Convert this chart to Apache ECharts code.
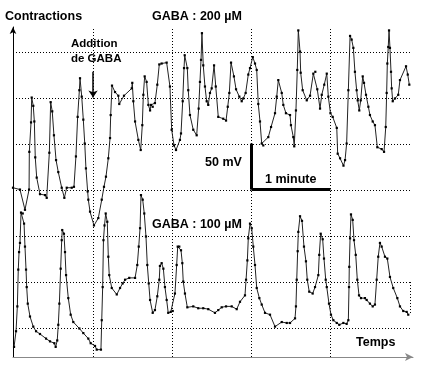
<!DOCTYPE html>
<html>
<head>
<meta charset="utf-8">
<script src="https://cdn.jsdelivr.net/npm/echarts@6/dist/echarts.min.js"></script>
<style>html,body{margin:0;padding:0;background:#fff}#c{width:427px;height:367px}</style>
</head>
<body>
<div id="c"></div>
<script>
// Time (s) and membrane signal (mV, arbitrary baseline)
const upperT = [0,5.3,9.1,12.2,12.4,13.7,14.2,15.4,16.2,16.9,18.0,20.5,24.3,25.6,27.6,28.6,29.8,31.1,32.7,34.4,37.0,39.0,40.8,44.6,46.3,47.8,49.1,50.4,50.9,52.2,53.4,54.5,55.4,56.7,57.2,58.5,61.5,64.8,67.4,69.1,70.6,72.4,73.7,74.2,75.2,77.5,80.0,80.7,84.3,90.2,90.6,91.4,92.7,95.2,97.0,98.2,99.0,100.0,101.5,102.8,104.1,104.8,106.1,107.8,109.6,111.1,112.9,116.7,119.2,120.5,122.3,123.8,126.8,127.6,128.9,129.9,130.4,132.4,133.1,134.4,136.9,139.5,141.0,142.0,142.8,143.5,144.5,145.8,147.1,148.3,149.6,150.9,152.7,154.0,155.9,159.7,161.8,163.1,164.3,165.6,167.8,169.4,171.9,173.7,174.9,176.7,178.7,180.0,182.1,183.8,185.1,186.3,187.6,188.9,190.1,193.9,196.0,199.0,200.3,201.5,204.1,205.3,207.3,210.4,211.1,212.9,213.6,214.9,215.9,216.7,218.0,218.5,220.0,223.1,225.6,228.1,229.6,231.1,233.2,234.5,236.4,238.3,239.5,241.1,242.8,245.9,246.6,248.4,251.0,252.2,253.4,254.7,256.0,257.2,258.5,259.7,261.0,261.8,263.0,264.1,265.6,266.6,268.1,269.9,271.1,273.2,274.9,276.7,280.0,281.8,283.1,283.8,284.3,285.0,285.6,286.3,287.1,287.6,288.4,290.1,292.6,293.9,298.5,299.8,301.0];
const upperV = [184,182,160,182,223,255,282,273,256,217,195,177,176,173,222,277,267,241,214,201,184,173,184,184,185,218,261,290,303,283,258,232,205,180,171,158,143,151,171,185,196,216,238,263,295,288,284,275,284,292,298,278,256,236,225,252,285,305,299,274,268,274,272,276,296,318,319,320,294,247,230,225,236,243,278,314,328,314,290,263,247,241,270,299,323,352,317,294,278,274,287,292,317,294,261,259,257,272,287,320,305,291,283,278,281,287,307,314,326,319,312,275,256,232,230,239,250,265,283,301,287,274,265,263,252,239,229,268,312,355,332,309,290,279,284,308,310,291,270,285,296,308,283,265,261,249,221,216,208,214,232,290,349,345,336,310,290,279,268,279,305,298,285,272,263,256,252,228,226,223,250,287,319,337,355,336,310,292,278,281,285,301,316,307,296];
const lowerT = [0.8,2.3,3.3,4.0,4.6,5.3,6.1,7.4,8.4,9.1,9.9,10.4,11.2,12.9,15.4,17.5,20.5,25.1,28.1,31.4,32.4,33.6,34.4,35.2,36.2,37.0,37.4,38.7,39.5,40.3,42.0,43.8,45.8,50.4,53.4,57.2,59.0,62.3,63.6,66.8,67.4,68.1,68.7,69.5,70.4,71.6,72.4,73.1,75.0,78.8,81.3,83.3,85.1,88.3,92.7,94.4,95.5,96.5,97.2,98.5,99.7,101.0,102.0,103.1,104.1,106.1,107.8,109.6,111.1,111.6,112.9,114.2,115.4,116.7,117.9,119.8,121.3,123.0,124.3,125.1,126.3,127.6,128.6,129.3,130.6,132.4,136.9,140.7,144.5,148.3,153.4,155.9,158.5,161.8,166.1,169.9,172.4,176.2,177.0,178.0,178.7,180.0,181.3,182.5,183.8,185.1,187.1,188.9,191.4,195.2,199.0,204.1,207.9,210.4,214.2,214.9,215.5,216.2,216.7,218.0,219.5,221.0,222.5,223.5,225.0,227.6,229.4,231.9,232.6,233.7,235.2,236.2,237.5,238.3,240.0,241.5,243.3,245.9,247.8,250.9,253.4,254.7,255.2,255.4,256.0,256.7,258.0,259.0,260.3,261.5,262.8,264.3,267.3,268.6,271.1,273.2,274.9,276.2,277.4,278.7,280.0,282.5,284.3,286.3,288.8,291.9,293.9,296.4,299.0,300.2];
const lowerV = [11,28,55,95,114,124,157,156,145,120,95,76,58,44,33,28,25,20,17,15,11,18,35,58,96,127,138,134,114,89,64,46,38,31,26,20,15,12,8,8,40,76,127,143,156,147,109,89,75,68,75,80,84,86,86,100,120,140,176,171,156,131,100,80,62,48,51,66,84,99,102,96,76,62,48,49,50,69,100,120,120,116,102,82,69,54,55,53,53,52,48,51,54,55,55,52,60,67,84,105,129,145,140,120,100,75,64,57,48,46,33,38,37,37,42,55,84,115,136,153,148,120,104,84,71,69,76,89,111,134,128,107,84,76,58,46,40,37,35,37,36,40,76,98,129,155,149,127,111,84,67,64,64,62,58,55,57,84,109,124,120,109,107,87,75,64,55,50,49,46];
const levelLines = [31.5,81.5,131.5,181.5,231.5,281.5,331.5];   // mV, 50 mV apart
const minuteLines = [60.8,120.8,180.8,240.8];                    // s, 1 min apart
const labels = {
  yName: 'Contractions', xName: 'Temps',
  high: 'GABA : 200 µM', low: 'GABA : 100 µM',
  add1: 'Addition', add2: 'de GABA',
  mv: '50 mV', min: '1 minute'
};
const T_MAX = 303.8, V_MAX = 358.7, GRID_END = 301.5, V_TOP = 358.7;
const barT0 = 181.1, barMinute = 60, barV0 = 182, barMv = 50;
const arrowT = 60.8, arrowV0 = 310, arrowV1 = 282;
const endMarkV = [81.5, 46];

const zip = (a, b) => a.map((x, i) => [x, b[i]]);
const F = '"Liberation Sans", Arial, sans-serif';
const dotted = {type: [1, 2], color: '#000', width: 1};

const chart = echarts.init(document.getElementById('c'), null, {renderer: 'canvas'});
const traceStyle = {
  type: 'line', symbol: 'rect', symbolSize: 2.2, showSymbol: true,
  lineStyle: {color: '#222', width: 1}, itemStyle: {color: '#000'},
  emphasis: {disabled: true}, silent: true, z: 5
};
const ml = (data, lineStyle, symbol) => ({
  silent: true, symbol: symbol || ['none', 'none'], symbolSize: 7,
  label: {show: false}, lineStyle, data, animation: false
});
chart.setOption({
  animation: false,
  grid: {left: 13, top: 27, right: 14, bottom: 10},
  xAxis: {
    type: 'value', min: 0, max: T_MAX,
    axisLine: {show: true, lineStyle: {color: '#888', width: 1}, symbol: ['none', 'arrow'], symbolSize: [6, 8]},
    axisTick: {show: false}, axisLabel: {show: false}, splitLine: {show: false}
  },
  yAxis: {
    type: 'value', min: 0, max: V_MAX,
    axisLine: {show: true, lineStyle: {color: '#000', width: 1}, symbol: ['none', 'arrow'], symbolSize: [5, 7]},
    axisTick: {show: false}, axisLabel: {show: false}, splitLine: {show: false}
  },
  series: [
    {type: 'line', data: [], silent: true, z: 1,
     markLine: ml(levelLines.map(v => [{coord: [0, v]}, {coord: [GRID_END, v]}])
       .concat([[{coord: [GRID_END, endMarkV[0]]}, {coord: [GRID_END, endMarkV[1]]}]]), dotted)},
    {type: 'line', data: [], silent: true, z: 1,
     markLine: ml(minuteLines.map(t => [{coord: [t, 0]}, {coord: [t, V_TOP]}]), dotted)},
    Object.assign({name: 'GABA 200', data: zip(upperT, upperV)}, traceStyle),
    Object.assign({name: 'GABA 100', data: zip(lowerT, lowerV)}, traceStyle),
    {type: 'line', data: [], silent: true, z: 6,
     markLine: ml([
       [{coord: [barT0, barV0 + barMv]}, {coord: [barT0, barV0]}],
       [{coord: [barT0, barV0]}, {coord: [barT0 + barMinute, barV0]}]
     ], {type: 'solid', color: '#000', width: 3})},
    {type: 'line', data: [], silent: true, z: 6,
     markLine: ml([[{coord: [arrowT, arrowV0]}, {coord: [arrowT, arrowV1]}]],
       {type: 'solid', color: '#000', width: 1.5}, ['none', 'arrow'])}
  ],
  graphic: [
    [labels.yName, 5, 17], [labels.high, 152, 17], [labels.add1, 71, 44], [labels.add2, 71, 59],
    [labels.mv, 205, 163], [labels.min, 265, 180], [labels.low, 152, 225], [labels.xName, 356, 343]
  ].map(([t, x, y], i) => ({
    type: 'text', x, y, z: 10,
    style: {text: t, fill: '#000', font: 'bold ' + (i === 2 || i === 3 ? 11.5 : 12.5) + 'px ' + F,
            align: 'left', verticalAlign: 'middle'}
  }))
});
</script>
</body>
</html>
